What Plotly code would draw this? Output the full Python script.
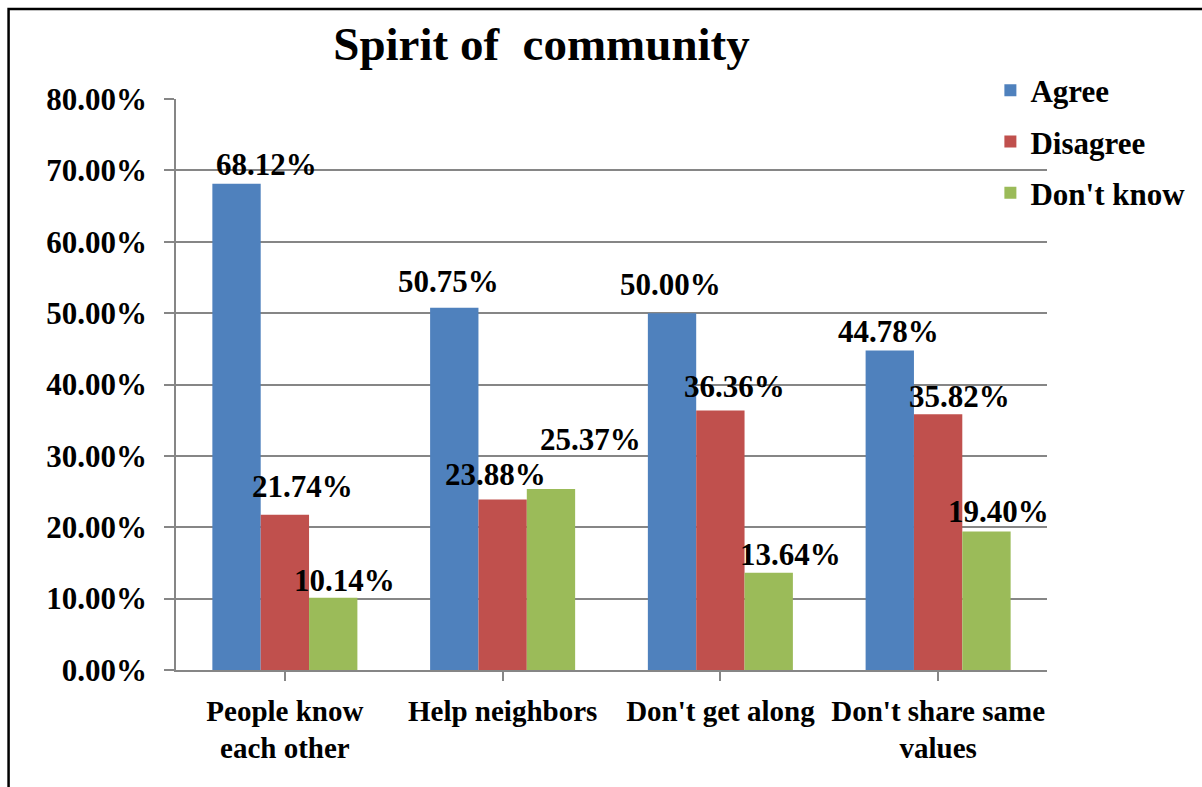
import plotly.graph_objects as go

# Survey results: share of responses per statement
categories = ["People know<br>each other", "Help neighbors", "Don't get along", "Don't share same<br>values"]
series_names = ["Agree", "Disagree", "Don't know"]
agree = [0.6812, 0.5075, 0.5000, 0.4478]
disagree = [0.2174, 0.2388, 0.3636, 0.3582]
dont_know = [0.1014, 0.2537, 0.1364, 0.1940]
y_ticks = [0.0, 0.1, 0.2, 0.3, 0.4, 0.5, 0.6, 0.7, 0.8]

colors = ["#4F81BD", "#C0504D", "#9BBB59"]

# label nudges (pixels) so the value labels sit like the original layout
label_dx = [[30, -5.5, -2, -1.5], [17.5, -7, 14.5, 21], [11, 39.5, 22, 12.5]]
label_dy = [[19.6, 26.6, 29, 19.3], [28.8, 25.5, 24.4, 18.2], [17.6, 49.9, 18.6, 20.5]]

FONT = "Liberation Serif, Times New Roman, serif"
BARGAP = 0.334

values = [agree, disagree, dont_know]

fig = go.Figure()
for name, vals, col in zip(series_names, values, colors):
    fig.add_trace(go.Bar(
        name=name, x=list(range(len(categories))), y=vals,
        marker=dict(color=col, line=dict(width=0)),
        legendgroup=name,
    ))

# value labels above each bar
n = len(series_names)
width = (1 - BARGAP) / n
annotations = []
for j, vals in enumerate(values):
    for i, v in enumerate(vals):
        annotations.append(dict(
            x=i + (j - (n - 1) / 2) * width, y=v, xref="x", yref="y",
            text=f"{v:.2%}", showarrow=False,
            xanchor="center", yanchor="middle",
            xshift=label_dx[j][i], yshift=label_dy[j][i],
            font=dict(family=FONT, size=31, color="black", weight="bold"),
        ))

fig.update_layout(
    width=1202, height=787,
    paper_bgcolor="white", plot_bgcolor="white",
    margin=dict(l=176, r=152, t=99, b=117),
    barmode="group", bargap=BARGAP, bargroupgap=0,
    title=dict(
        text="Spirit of\u00a0 community",
        x=541.5 / 1202, xanchor="center", xref="container",
        y=1 - 43.5 / 787, yanchor="middle", yref="container",
        font=dict(family=FONT, size=47, color="black", weight="bold"),
    ),
    font=dict(family=FONT, color="black", weight="bold"),
    legend=dict(
        x=0.935, xanchor="left", y=1.062, yanchor="top",
        font=dict(family=FONT, size=31, color="black", weight="bold"),
        tracegroupgap=8, traceorder="grouped",
        bgcolor="rgba(0,0,0,0)", borderwidth=0,
        itemwidth=30,
    ),
    annotations=annotations,
    shapes=[dict(
        type="rect", xref="paper", yref="paper",
        x0=(8 - 176) / 874, x1=(1215 - 176) / 874,
        y0=(670 - 800) / 571, y1=(670 - 9) / 571,
        line=dict(color="black", width=2.5), fillcolor="rgba(0,0,0,0)",
        layer="above",
    )],
)

fig.update_xaxes(
    tickmode="array", tickvals=list(range(len(categories))), ticktext=categories,
    range=[-0.5, len(categories) - 0.5],
    showline=True, linecolor="#868686", linewidth=1.5,
    ticks="outside", tickson="boundaries", ticklen=9, tickcolor="#868686", tickwidth=1.5,
    tickfont=dict(family=FONT, size=29, color="black", weight="bold"),
    ticklabelstandoff=5,
    showgrid=False, zeroline=False,
)
fig.update_yaxes(
    range=[0, 0.8], tickvals=y_ticks, tickformat=".2%",
    showline=True, linecolor="#868686", linewidth=1.5,
    ticks="outside", ticklen=10, tickcolor="#868686", tickwidth=1.5,
    showgrid=True, gridcolor="#868686", gridwidth=1.5,
    zeroline=False,
    tickfont=dict(family=FONT, size=31, color="black", weight="bold"),
    ticklabelstandoff=11,
)

fig.write_html("out.html")
